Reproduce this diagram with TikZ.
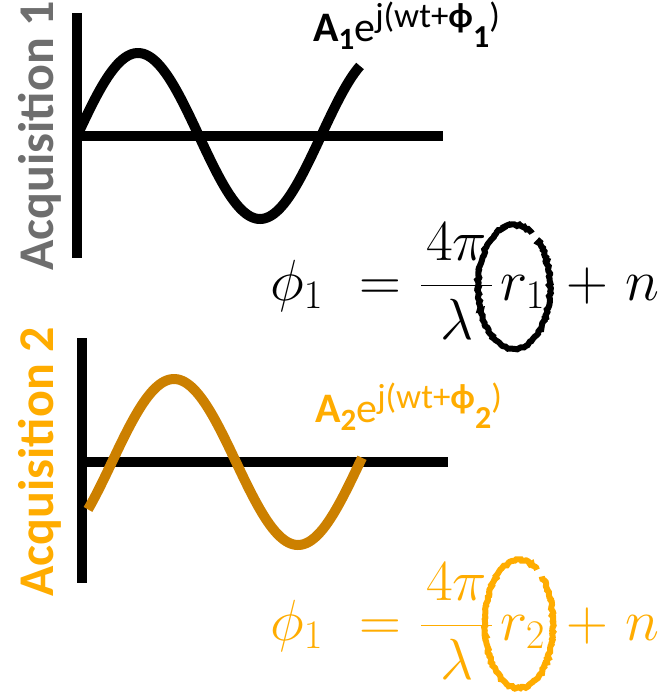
\RequirePackage{fix-cm}
\documentclass[tikz,border=0pt]{standalone}
\usepackage[no-math]{fontspec}
\setmainfont{Carlito}
\usepackage{amsmath}
\usepackage{xcolor}
\usepackage{tikz}
\usetikzlibrary{decorations.pathmorphing}
\definecolor{acqgray}{RGB}{110,110,110}
\definecolor{acqorange}{RGB}{255,172,0}
\definecolor{waveorange}{RGB}{204,128,0}
\tikzset{
axis/.style={
draw=black,
line width=10pt
},
wave/.style={
line width=10pt,
smooth,
samples=120
},
acq/.style={
rotate=90,
anchor=base,
inner sep=0pt,
font=\fontsize{50}{50}\selectfont\bfseries
},
sig/.style={
anchor=base west,
inner sep=0pt,
font=\fontsize{42}{42}\selectfont
},
eq/.style={
anchor=base west,
inner sep=0pt,
font=\fontsize{58}{58}\selectfont
},
pencil/.style={
line width=6pt,
decorate,
decoration={random steps,segment length=2pt,amplitude=1pt}
}
}
\newcommand{\sigtext}[1]{\textbf{A}\raisebox{-8pt}{\fontsize{31}{31}\selectfont\textbf{#1}}e\raisebox{14pt}{\fontsize{35}{35}\selectfont j(wt+\textbf{ϕ}\raisebox{-20pt}{\fontsize{32}{32}\selectfont\textbf{#1}})}}
\newcommand{\phaseeq}[1]{%
\makebox[89pt][l]{$\phi_1$}%
\makebox[61pt][l]{$=$}%
\makebox[80pt][l]{$\dfrac{\mkern1.5mu4\pi\mkern1.5mu}{\lambda}$}%
\makebox[66pt][l]{$r_{#1}$}%
\makebox[59pt][l]{$+$}%
$n$}

\begin{document}
\begin{tikzpicture}[x=1pt,y=-1pt]
\useasboundingbox (0,0) rectangle (666,692);

% acquisition 1
\node[acq,text=acqgray](acqa) at (53,136){Acquisition 1};
\coordinate (topa) at (77,13);
\coordinate (bota) at (77,258);
\coordinate (oa) at (72,136);
\coordinate (enda) at (443,136);
\draw[axis](topa)--(bota);
\draw[axis](oa)--(enda);
\draw[wave,black] plot[domain=77:360] (\x,{136-83*sin((\x-77)*1.4754)});
\node[sig](siga) at (313,42){\sigtext{1}};
\node[eq](eqa) at (270,300){\phaseeq{1}};
\draw[pencil,black] (514,287) ++(-50:36 and 62) arc[start angle=-50,end angle=300,x radius=36,y radius=62];

% acquisition 2
\node[acq,text=acqorange](acqb) at (53,462){Acquisition 2};
\coordinate (topb) at (82,338);
\coordinate (botb) at (82,583);
\coordinate (ob) at (77,462);
\coordinate (endb) at (448,462);
\draw[axis](topb)--(botb);
\draw[axis](ob)--(endb);
\draw[wave,waveorange] plot[domain=88:362] (\x,{462-83*sin((\x-112)*1.4516)});
\node[sig,text=acqorange](sigb) at (315,422){\sigtext{2}};
\node[eq,text=acqorange](eqb) at (270,640){\phaseeq{2}};
\draw[pencil,acqorange] (519,624) ++(-48:34 and 64) arc[start angle=-48,end angle=302,x radius=34,y radius=64];
\end{tikzpicture}
\end{document}
